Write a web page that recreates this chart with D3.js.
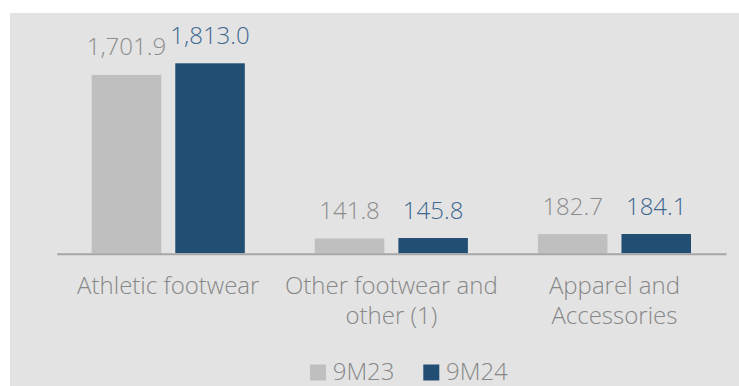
<!DOCTYPE html>
<html>
<head>
<meta charset="utf-8">
<script src="https://cdn.jsdelivr.net/npm/d3@7"></script>
<style>
  html, body { margin: 0; padding: 0; background: #ffffff; }
  svg { display: block; }
  text { font-family: "Open Sans", Lato, sans-serif; font-weight: 300; }
</style>
</head>
<body>
<script>
// Net sales by product category, 9M23 vs 9M24
const categories = ["Athletic footwear", "Other footwear and other (1)", "Apparel and Accessories"];
const seriesNames = ["9M23", "9M24"];
const values9M23 = [1701.9, 141.8, 182.7];
const values9M24 = [1813.0, 145.8, 184.1];

const seriesValues = [values9M23, values9M24];
const barColors = ["#bfbfbf", "#234e74"];
const labelColors = ["#8c8c8c", "#3d6890"];

const W = 739, H = 386;
const svg = d3.select("body").append("svg").attr("width", W).attr("height", H);

// grey panel
svg.append("rect").attr("x", 10).attr("y", 13).attr("width", W - 10).attr("height", H - 13)
  .attr("fill", "#e3e3e3");

const x0 = d3.scaleBand().domain(categories).range([56.7, 726]).padding(0);
const x1 = d3.scaleBand().domain(seriesNames).range([35, x0.bandwidth() - 35]).paddingInner(0.168);
const y = d3.scaleLinear().domain([0, 2000]).range([253.3, 43.7]);

const rows = categories.map((c, i) => ({
  category: c,
  bars: seriesNames.map((s, j) => ({ series: s, idx: j, value: seriesValues[j][i] }))
}));

const groups = svg.selectAll("g.cat").data(rows).join("g")
  .attr("class", "cat")
  .attr("transform", d => `translate(${x0(d.category)},0)`);

groups.selectAll("rect").data(d => d.bars).join("rect")
  .attr("x", d => x1(d.series))
  .attr("width", x1.bandwidth())
  .attr("y", d => y(d.value))
  .attr("height", d => y(0) - y(d.value))
  .attr("fill", d => barColors[d.idx]);

groups.selectAll("text.val").data(d => d.bars).join("text")
  .attr("class", "val")
  .attr("x", d => x1(d.series) + x1.bandwidth() / 2)
  .attr("y", d => y(d.value) - 19.5)
  .attr("text-anchor", "middle")
  .attr("font-size", 24)
  .attr("fill", d => labelColors[d.idx])
  .text(d => d3.format(",.1f")(d.value));

// baseline axis
const xAxis = d3.axisBottom(x0).tickSize(0).tickFormat("");
const axisG = svg.append("g").attr("transform", `translate(0,${y(0) + 0.5})`).call(xAxis);
axisG.select(".domain").attr("stroke", "#a6a6a6").attr("stroke-width", 2);

// category labels, wrapped to fit each band
const maxLineWidth = 222;
svg.selectAll("text.cat").data(categories).join("text")
  .attr("class", "cat")
  .attr("text-anchor", "middle")
  .attr("font-size", 24)
  .attr("fill", "#878787")
  .each(function (d) {
    const t = d3.select(this);
    const cx = x0(d) + x0.bandwidth() / 2;
    const words = d.split(" ");
    let lines = [], line = [];
    const probe = t.append("tspan");
    for (const w of words) {
      const trial = line.concat(w).join(" ");
      probe.text(trial);
      if (probe.node().getComputedTextLength() > maxLineWidth && line.length) {
        lines.push(line.join(" "));
        line = [w];
      } else {
        line.push(w);
      }
    }
    lines.push(line.join(" "));
    probe.remove();
    lines.forEach((ln, k) => {
      t.append("tspan").attr("x", cx).attr("y", 294 + k * 30).text(ln);
    });
  });

// legend
const legend = svg.append("g").attr("transform", "translate(310,380)");
const legendItems = legend.selectAll("g").data(seriesNames).join("g")
  .attr("transform", (d, i) => `translate(${i * 113.3},0)`);
legendItems.append("rect").attr("x", 0).attr("y", -15.5).attr("width", 16).attr("height", 16)
  .attr("fill", (d, i) => barColors[i]);
legendItems.append("text").attr("x", 22.7).attr("y", 0)
  .attr("font-size", 24).attr("fill", "#878787").text(d => d);
</script>
</body>
</html>
